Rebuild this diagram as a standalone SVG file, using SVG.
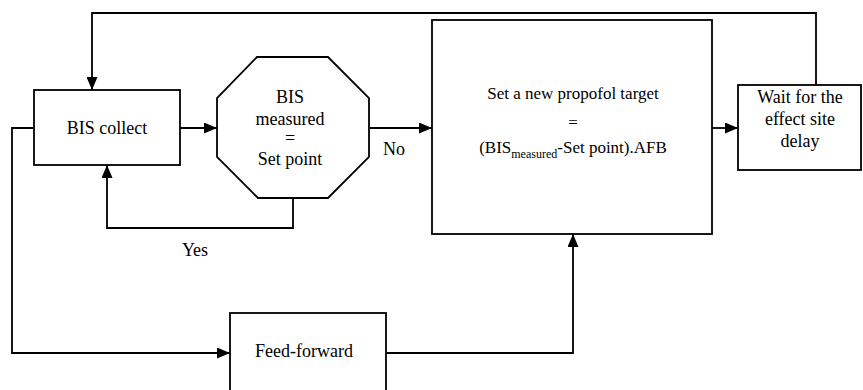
<svg xmlns="http://www.w3.org/2000/svg" width="863" height="390" viewBox="0 0 863 390">
<defs>
<marker id="ah" viewBox="0 0 13 11" refX="13" refY="5.5" markerWidth="13" markerHeight="11" markerUnits="userSpaceOnUse" orient="auto">
<path d="M0,0 L13,5.5 L0,11 Z" fill="#000"/>
</marker>
<style>
.box{fill:#fff;stroke:#000;stroke-width:1.8}
.ar{fill:none;stroke:#000;stroke-width:1.8;marker-end:url(#ah)}
.t{font-size:18px;fill:#000;text-anchor:middle}
.s{font-size:17px}
</style>
</defs>
<rect width="863" height="390" fill="#fff"/>
<g font-family="'Liberation Serif', 'Times New Roman', 'DejaVu Serif', serif">
<g id="connectors">
<polyline class="ar" points="816,85 816,13 92,13 92,90"/>
<line class="ar" x1="180" y1="128" x2="217" y2="128"/>
<line class="ar" x1="369" y1="128" x2="432" y2="128"/>
<line class="ar" x1="712" y1="128" x2="738" y2="128"/>
<polyline class="ar" points="293,198 293,228 107,228 107,165"/>
<polyline class="ar" points="34,128 12,128 12,353 230,353"/>
<polyline class="ar" points="386,353 573,353 573,234"/>
<text class="t" x="394" y="155">No</text>
<text class="t" x="195" y="256">Yes</text>
</g>
<g id="bis-collect">
<rect class="box" x="34" y="90" width="146" height="75"/>
<text class="t" x="107" y="134">BIS collect</text>
</g>
<g id="bis-measured">
<polygon class="box" points="257,57 328,57 369,98 369,157 328,198 258,198 217,157 217,98"/>
<text class="t" x="290" y="103">BIS</text>
<text class="t" x="290" y="125">measured</text>
<text class="t" x="290" y="144">=</text>
<text class="t" x="290" y="165">Set point</text>
</g>
<g id="new-target">
<rect class="box" x="432" y="20" width="280" height="214"/>
<text class="t s" x="573" y="99">Set a new propofol target</text>
<text class="t s" x="573" y="128">=</text>
<text class="t s" x="573" y="153">(BIS<tspan font-size="12" dy="5">measured</tspan><tspan dy="-5">-Set point).AFB</tspan></text>
</g>
<g id="wait">
<rect class="box" x="738" y="85" width="123" height="85"/>
<text class="t" x="800" y="103">Wait for the</text>
<text class="t" x="800" y="125">effect site</text>
<text class="t" x="800" y="147">delay</text>
</g>
<g id="feed-forward">
<rect class="box" x="230" y="313" width="156" height="90"/>
<text class="t" x="304" y="357">Feed-forward</text>
</g>
</g>
</svg>
